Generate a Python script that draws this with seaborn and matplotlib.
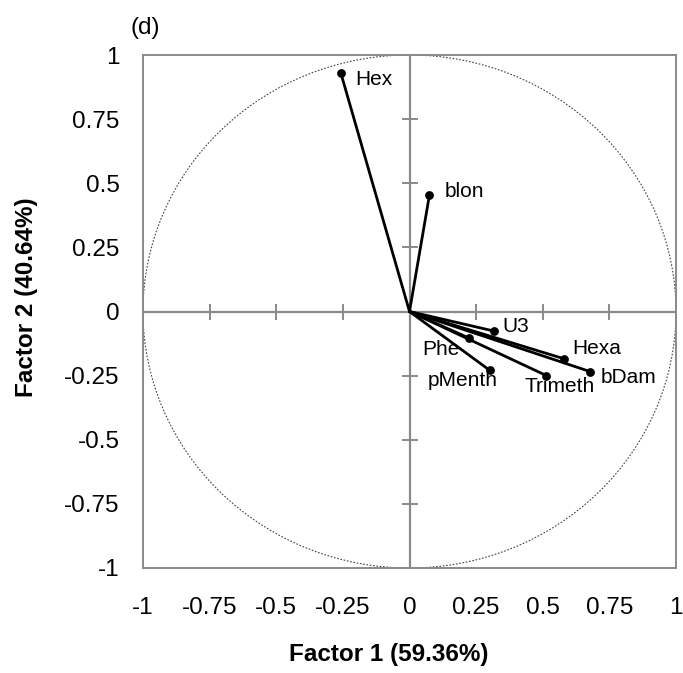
import numpy as np
import pandas as pd
import matplotlib
matplotlib.use("Agg")
import matplotlib.pyplot as plt
from matplotlib.patches import Circle
import seaborn as sns

# Variable loadings on the first two factors
variables = ["Hex", "blon", "U3", "Hexa", "bDam", "Phe", "pMenth", "Trimeth"]
factor1 = [-0.258, 0.075, 0.316, 0.579, 0.677, 0.222, 0.302, 0.514]
factor2 = [0.931, 0.455, -0.076, -0.184, -0.234, -0.103, -0.230, -0.250]

# Label offsets (pixels) and alignment for each variable name
label_dx = [15, 15, 9, 8, 11, -9, -27, 13]
label_dy = [-7, 3, 4, 10, -6, -12, -10, -11]
label_ha = ["left", "left", "left", "left", "left", "right", "center", "center"]

ticks = [-1, -0.75, -0.5, -0.25, 0, 0.25, 0.5, 0.75, 1]
tick_labels = ["-1", "-0.75", "-0.5", "-0.25", "0", "0.25", "0.5", "0.75", "1"]

sns.set_theme(style="white")
plt.rcParams["font.family"] = ["Liberation Sans", "DejaVu Sans"]
plt.rcParams["text.color"] = "black"
plt.rcParams["axes.labelcolor"] = "black"

fig = plt.figure(figsize=(6.83, 6.73), dpi=100)
ax = fig.add_axes([143 / 683, 1 - 568 / 673, 533 / 683, 513 / 673])
ax.set_xlim(-1, 1)
ax.set_ylim(-1, 1)

frame_gray = "#8a8a8a"
for sp in ax.spines.values():
    sp.set_color(frame_gray)
    sp.set_linewidth(1.4)

# Correlation circle
ax.add_patch(Circle((0, 0), 1, fill=False, linestyle=(0, (1.5, 1.5)),
                    linewidth=0.8, edgecolor="#444444", zorder=1))

# Central axes with cross ticks
ax.axhline(0, color=frame_gray, lw=1.6, zorder=1)
ax.axvline(0, color=frame_gray, lw=1.6, zorder=1)
tx = 8 / 266.5
ty = 8 / 256.5
for t in ticks[1:-1]:
    if t != 0:
        ax.vlines(t, -ty, ty, color=frame_gray, lw=1.4, zorder=1)
        ax.hlines(t, -tx, tx, color=frame_gray, lw=1.4, zorder=1)

# Vectors from the origin
rows = []
for v, x, y in zip(variables, factor1, factor2):
    rows.append({"var": v, "x": 0.0, "y": 0.0, "ord": 0})
    rows.append({"var": v, "x": x, "y": y, "ord": 1})
vec = pd.DataFrame(rows)
sns.lineplot(data=vec, x="x", y="y", units="var", estimator=None, sort=False,
             color="black", lw=2.0, ax=ax, zorder=3)

pts = pd.DataFrame({"var": variables, "x": factor1, "y": factor2})
sns.scatterplot(data=pts, x="x", y="y", color="black", s=40, edgecolor="black",
                linewidth=0, ax=ax, zorder=4)

for v, x, y, dx, dy, ha in zip(variables, factor1, factor2, label_dx, label_dy, label_ha):
    ax.annotate(v, (x, y), xytext=(dx, dy), textcoords="offset pixels",
                ha=ha, va="center", fontsize=15, color="black")

ax.set_xticks(ticks)
ax.set_xticklabels(tick_labels)
ax.set_yticks(ticks)
ax.set_yticklabels(tick_labels)
ax.tick_params(axis="x", length=0, pad=21, labelsize=17.5, colors="black")
ax.tick_params(axis="y", length=0, pad=17, labelsize=17.5, colors="black")

ax.set_xlabel("Factor 1 (59.36%)", fontsize=17.5, fontweight="bold", color="black")
ax.set_ylabel("Factor 2 (40.64%)", fontsize=17.5, fontweight="bold", color="black")
ax.xaxis.set_label_coords((389 - 143) / 533, -(643 - 568) / 513)
ax.yaxis.set_label_coords(-(143 - 38) / 533, (568 - 297.5) / 513)

fig.text(131 / 683, 1 - 28 / 673, "(d)", fontsize=17.5, ha="left", va="center",
         color="black")

fig.savefig("out.png", dpi=100)
